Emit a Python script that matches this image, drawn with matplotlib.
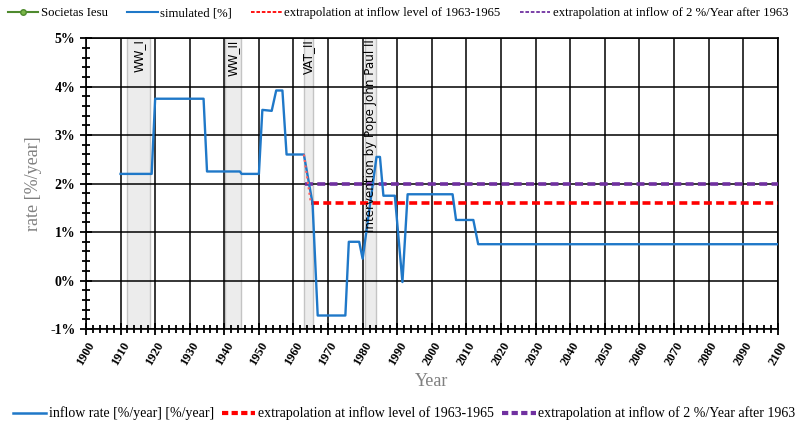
import matplotlib.pyplot as plt
from matplotlib.lines import Line2D
from matplotlib.ticker import MultipleLocator, FuncFormatter

# simulated inflow rate [%/year]
years = [1910, 1919, 1920, 1934, 1935, 1944.5, 1945, 1950, 1951, 1953.7, 1955, 1956.8,
         1958, 1963, 1965.5, 1967, 1975, 1976, 1979, 1980, 1984, 1985, 1986, 1989.3,
         1991.5, 1993, 2006, 2007, 2012, 2013.4, 2100]
rate = [2.2, 2.2, 3.75, 3.75, 2.25, 2.25, 2.2, 2.2, 3.52, 3.5, 3.92, 3.92,
        2.6, 2.6, 1.6, -0.72, -0.72, 0.8, 0.8, 0.45, 2.55, 2.55, 1.75, 1.75,
        -0.03, 1.78, 1.78, 1.25, 1.25, 0.75, 0.75]

# extrapolations
ext_level_years = [1963, 1965, 2100]
ext_level_rate = [2.6, 1.6, 1.6]
ext_2pct_years = [1963.3, 2100]
ext_2pct_rate = [2.0, 2.0]

# marked periods
periods = [(1912, 1918.5, "WW_I"), (1940.2, 1944.7, "WW_II"),
           (1963.1, 1965.7, "VAT_II"), (1980.6, 1984, "Intervention by Pope John Paul II")]

serif = "Liberation Serif"
blue = "#1f78c8"
red = "#ff0000"
purple = "#7030a0"

fig = plt.figure(figsize=(7.96, 4.33), dpi=100)
ax = fig.add_axes([0.108, 0.240, 0.869, 0.672])

for x0, x1, name in periods:
    ax.axvspan(x0, x1, facecolor="#ececec", edgecolor="#c4c4c4", lw=1, zorder=1)
    ax.text((x0 + x1) / 2, 4.97, name, rotation=90, ha="center", va="top",
            fontsize=8.6, family="DejaVu Sans", zorder=5)

ax.plot(years, rate, color=blue, lw=1.7, zorder=4)
ax.plot(ext_level_years[:2], ext_level_rate[:2], color="#ff6060", lw=1.5, ls=":", zorder=4)
ax.plot(ext_level_years[1:], ext_level_rate[1:], color=red, lw=2.6, ls=(0, (2.2, 1.2)), zorder=3)
ax.plot(ext_2pct_years, ext_2pct_rate, color=purple, lw=2.6, ls=(0, (2.2, 1.2)), zorder=3)

ax.set_xlim(1900, 2100)
ax.set_ylim(-1, 5)
ax.xaxis.set_major_locator(MultipleLocator(10))
ax.xaxis.set_minor_locator(MultipleLocator(2))
ax.yaxis.set_major_locator(MultipleLocator(1))
ax.yaxis.set_minor_locator(MultipleLocator(0.2))
ax.yaxis.set_major_formatter(FuncFormatter(lambda v, p: f"{v:.0f}%"))
ax.grid(True, which="major", color="black", lw=1.1, zorder=2)
ax.set_axisbelow(False)
ax.tick_params(which="both", direction="inout", color="black", width=1.3)
ax.tick_params(which="major", length=8)
ax.tick_params(which="minor", length=6)
for s in ax.spines.values():
    s.set_color("black")
    s.set_linewidth(1.2)

for lab in ax.get_xticklabels():
    lab.set_rotation(60)
    lab.set_ha("center")
    lab.set_va("top")
    lab.set_family(serif)
    lab.set_fontweight("bold")
    lab.set_fontsize(9)
for lab in ax.get_yticklabels():
    lab.set_family(serif)
    lab.set_fontweight("bold")
    lab.set_fontsize(10)

ax.set_xlabel("Year", family=serif, fontsize=13, color="#808080", labelpad=4)
ax.set_ylabel("rate [%/year]", family=serif, fontsize=13, color="#808080", labelpad=6)

top_handles = [
    Line2D([], [], color="#4e8a2e", lw=1.5, marker="o", markersize=4, markerfacecolor="#7ab648"),
    Line2D([], [], color=blue, lw=1.5),
    Line2D([], [], color=red, lw=1.3, ls=(0, (2, 1))),
    Line2D([], [], color=purple, lw=1.3, ls=(0, (2, 1))),
]
top_labels = ["Societas Iesu", "simulated [%]", "extrapolation at inflow level of 1963-1965",
              "extrapolation at inflow of 2 %/Year after 1963"]
fig.legend(top_handles, top_labels, loc="upper left", bbox_to_anchor=(-0.005, 1.01), ncol=4,
           frameon=False, prop={"family": serif, "size": 9.2}, handlelength=2.4,
           handletextpad=0.2, columnspacing=1.5)

bot_handles = [
    Line2D([], [], color=blue, lw=1.8),
    Line2D([], [], color=red, lw=3, ls=(0, (1.5, 0.8))),
    Line2D([], [], color=purple, lw=3, ls=(0, (1.5, 0.8))),
]
bot_labels = ["inflow rate [%/year] [%/year]", "extrapolation at inflow level of 1963-1965",
              "extrapolation at inflow of 2 %/Year after 1963"]
fig.legend(bot_handles, bot_labels, loc="lower left", bbox_to_anchor=(0.0, 0.0), ncol=3,
           frameon=False, prop={"family": serif, "size": 10}, handlelength=2.4,
           handletextpad=0.2, columnspacing=0.6)

fig.savefig("out.png", dpi=100)
